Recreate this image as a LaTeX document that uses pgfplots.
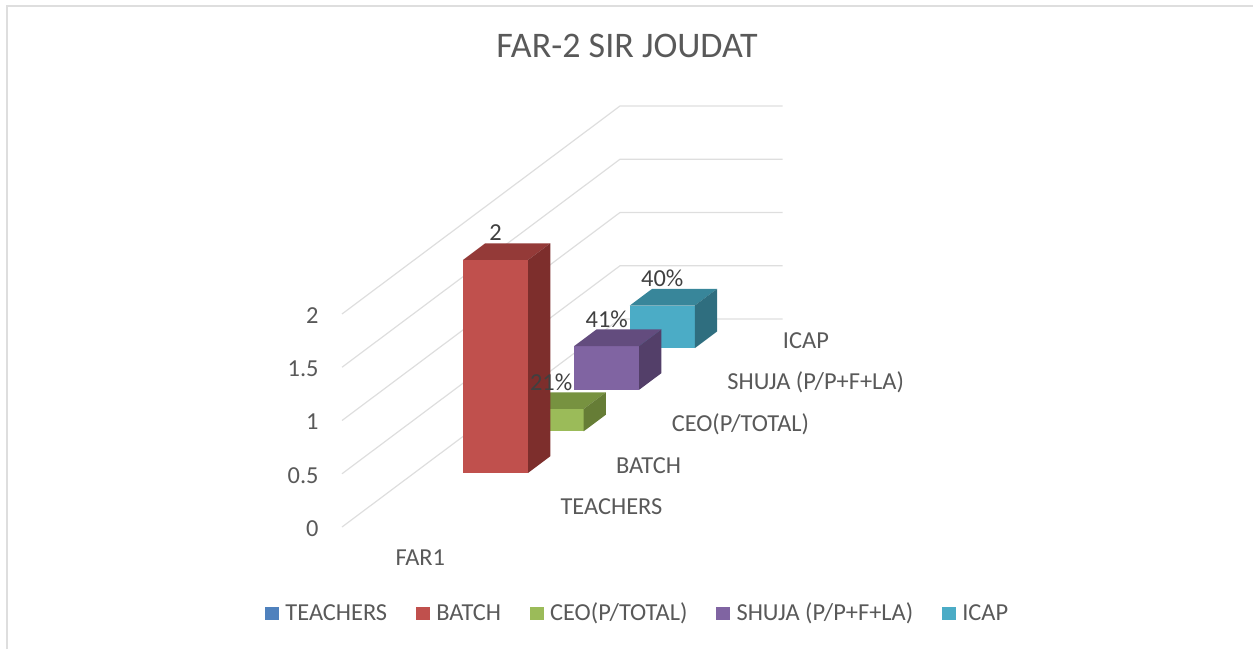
\documentclass[border=0pt]{standalone}
\usepackage{fontspec}
\setmainfont{Carlito}
\usepackage{pgfplots}
\pgfplotsset{compat=1.18}
\definecolor{txt}{HTML}{595959}
\definecolor{lbl}{HTML}{404040}
\definecolor{gridc}{HTML}{DEDEDE}
\definecolor{teachF}{HTML}{4F81BD}
\definecolor{batchF}{HTML}{C0504D}
\definecolor{batchT}{HTML}{943A38}
\definecolor{batchS}{HTML}{7D2E2C}
\definecolor{ceoF}{HTML}{9BBB59}
\definecolor{ceoT}{HTML}{779240}
\definecolor{ceoS}{HTML}{667D36}
\definecolor{shuF}{HTML}{8064A2}
\definecolor{shuT}{HTML}{634C7E}
\definecolor{shuS}{HTML}{533F69}
\definecolor{icaF}{HTML}{4BACC6}
\definecolor{icaT}{HTML}{38869A}
\definecolor{icaS}{HTML}{2F6E7F}
% #1 front depth, #2 back depth, #3 value, #4 front, #5 top, #6 side colour
\newcommand\bbox[6]{%
  \addplot3[draw=none, fill=#4, forget plot] coordinates {(0.3,#1,0) (0.7,#1,0) (0.7,#1,#3) (0.3,#1,#3)};
  \addplot3[draw=none, fill=#5, forget plot] coordinates {(0.3,#1,#3) (0.7,#1,#3) (0.7,#2,#3) (0.3,#2,#3)};
  \addplot3[draw=none, fill=#6, forget plot] coordinates {(0.7,#1,0) (0.7,#2,0) (0.7,#2,#3) (0.7,#1,#3)};
}
\begin{document}
\begin{tikzpicture}[font=\fontsize{9.15}{11}\selectfont]
\begin{axis}[
  hide axis, clip=false,
  x={(60.94pt,0pt)}, y={(104.25pt,78pt)}, z={(0pt,39.94pt)},
  xmin=0, xmax=1, ymin=0, ymax=1, zmin=0, zmax=2,
]
% walls grid
\addplot3[gridc, line width=0.45pt, forget plot] coordinates {(0,0,0) (0,1,0) (1,1,0)};
\addplot3[gridc, line width=0.45pt, forget plot] coordinates {(0,0,0.5) (0,1,0.5) (1,1,0.5)};
\addplot3[gridc, line width=0.45pt, forget plot] coordinates {(0,0,1) (0,1,1) (1,1,1)};
\addplot3[gridc, line width=0.45pt, forget plot] coordinates {(0,0,1.5) (0,1,1.5) (1,1,1.5)};
\addplot3[gridc, line width=0.45pt, forget plot] coordinates {(0,0,2) (0,1,2) (1,1,2)};
% bars, back to front
\bbox{0.86}{0.94}{0.40}{icaF}{icaT}{icaS}
\bbox{0.66}{0.74}{0.41}{shuF}{shuT}{shuS}
\bbox{0.46}{0.54}{0.21}{ceoF}{ceoT}{ceoS}
\bbox{0.26}{0.34}{2}{batchF}{batchT}{batchS}
% data labels
\node[anchor=base, inner sep=0pt, text=lbl, yshift=7.1pt] at (axis cs:0.5,0.26,2) {2};
\node[anchor=base, inner sep=0pt, text=lbl, yshift=7.1pt] at (axis cs:0.5,0.46,0.21) {21\%};
\node[anchor=base, inner sep=0pt, text=lbl, yshift=7.1pt] at (axis cs:0.5,0.66,0.41) {41\%};
\node[anchor=base, inner sep=0pt, text=lbl, yshift=7.1pt] at (axis cs:0.5,0.86,0.40) {40\%};
% value axis labels
\node[anchor=base east, inner sep=0pt, text=txt, xshift=-8.6pt, yshift=-3.5pt] at (axis cs:0,0,0) {0};
\node[anchor=base east, inner sep=0pt, text=txt, xshift=-8.6pt, yshift=-3.5pt] at (axis cs:0,0,0.5) {0.5};
\node[anchor=base east, inner sep=0pt, text=txt, xshift=-8.6pt, yshift=-3.5pt] at (axis cs:0,0,1) {1};
\node[anchor=base east, inner sep=0pt, text=txt, xshift=-8.6pt, yshift=-3.5pt] at (axis cs:0,0,1.5) {1.5};
\node[anchor=base east, inner sep=0pt, text=txt, xshift=-8.6pt, yshift=-3.5pt] at (axis cs:0,0,2) {2};
% series (depth) labels
\node[anchor=base west, inner sep=0pt, text=txt, xshift=10.4pt, yshift=-3.2pt] at (axis cs:1,0.1,0) {TEACHERS};
\node[anchor=base west, inner sep=0pt, text=txt, xshift=10.4pt, yshift=-3.2pt] at (axis cs:1,0.3,0) {BATCH};
\node[anchor=base west, inner sep=0pt, text=txt, xshift=10.4pt, yshift=-3.2pt] at (axis cs:1,0.5,0) {CEO(P/TOTAL)};
\node[anchor=base west, inner sep=0pt, text=txt, xshift=10.4pt, yshift=-3.2pt] at (axis cs:1,0.7,0) {SHUJA (P/P+F+LA)};
\node[anchor=base west, inner sep=0pt, text=txt, xshift=10.4pt, yshift=-3.2pt] at (axis cs:1,0.9,0) {ICAP};
% category label
\node[anchor=base, inner sep=0pt, text=txt, xshift=-1.1pt, yshift=-14.5pt] at (axis cs:0.5,0,0) {FAR1};
\coordinate (O) at (axis cs:0,0,0);
\end{axis}
% title
\path (O) ++(106.9pt,176.25pt) node[anchor=base, inner sep=0pt, text=txt, font=\fontsize{13.5}{16}\selectfont] {FAR-2 SIR JOUDAT};
% legend
\path (O) ++(-28.9pt,-34.9pt) coordinate (L0);
\fill[teachF] (L0) rectangle ++(5.25pt,4.9pt);
\path (L0) ++(7.5pt,0) node[anchor=base west, inner sep=0pt, text=txt] (t1) {TEACHERS};
\fill[batchF] (t1.base east) ++(10.5pt,0) rectangle ++(5.25pt,4.9pt);
\path (t1.base east) ++(18pt,0) node[anchor=base west, inner sep=0pt, text=txt] (t2) {BATCH};
\fill[ceoF] (t2.base east) ++(10.5pt,0) rectangle ++(5.25pt,4.9pt);
\path (t2.base east) ++(18pt,0) node[anchor=base west, inner sep=0pt, text=txt] (t3) {CEO(P/TOTAL)};
\fill[shuF] (t3.base east) ++(10.5pt,0) rectangle ++(5.25pt,4.9pt);
\path (t3.base east) ++(18pt,0) node[anchor=base west, inner sep=0pt, text=txt] (t4) {SHUJA (P/P+F+LA)};
\fill[icaF] (t4.base east) ++(10.5pt,0) rectangle ++(5.25pt,4.9pt);
\path (t4.base east) ++(18pt,0) node[anchor=base west, inner sep=0pt, text=txt] (t5) {ICAP};
% frame
\path (O) ++(-128.25pt,-45.75pt) coordinate (BL);
\draw[gridc, line width=0.75pt] (BL) ++(2.44pt,0) -- ++(0,241.3pt) -- ++(467.5pt,0);
\pgfresetboundingbox
\path[use as bounding box] (BL) rectangle ++(469.875pt,243.375pt);
\end{tikzpicture}
\end{document}
